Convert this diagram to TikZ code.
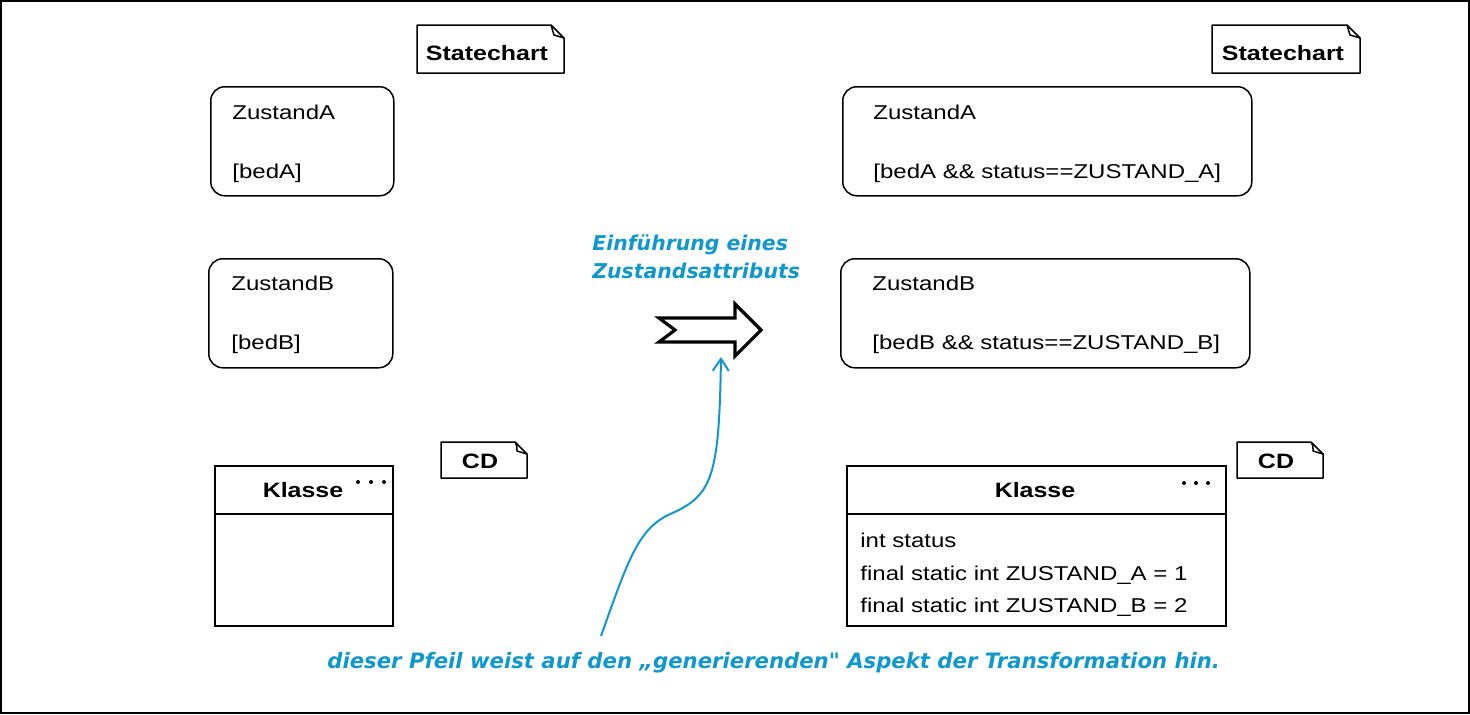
\documentclass[tikz,border=0pt]{standalone}
\usepackage{fontspec}
\setmainfont{Liberation Sans}[FakeStretch=1.2]
\newfontfamily\handfont{DejaVu Sans}
\usetikzlibrary{arrows.meta}
\definecolor{hand}{RGB}{16,152,206}
\tikzset{
  boxline/.style={draw=black, line width=0.75pt},
  statebox/.style={boxline, rounded corners=7pt, anchor=north west, inner sep=0pt},
  classbox/.style={boxline, anchor=north west, inner sep=0pt},
  txt/.style={anchor=base west, inner sep=0pt, font=\fontsize{10}{12}\selectfont},
  btxt/.style={anchor=base, inner sep=0pt, font=\fontsize{10.4}{12}\selectfont\bfseries},
  handtxt/.style={anchor=base west, inner sep=0pt, text=hand, font=\handfont\fontsize{10.2}{12}\selectfont\bfseries\itshape},
  bigarrow/.style={draw=black, line width=1.6pt, fill=white, miter limit=10},
  pointer/.style={draw=hand, line width=1pt, -{Straight Barb[length=6pt,width=8pt,line width=1pt]}},
  dot/.style={fill=black, draw=none},
}
\begin{document}
\begin{tikzpicture}[x=0.5pt,y=-0.5pt]
\useasboundingbox (0,0) rectangle (1470,714);
\draw[line width=1pt] (1,1) rectangle (1469,713);

% ---------- left side ----------
% Statechart tag
\draw[boxline, line join=round] (417,25) -- (551,25) -- (564,38) -- (564,73) -- (417,73) -- cycle;
\draw[boxline, line join=round] (551,25) .. controls (553,30) .. (554,35) -- (564,38);
\node[btxt] (tagL) at (487,60) {Statechart};

\node[statebox, minimum width=91.5pt, minimum height=54.5pt] (sAL) at (210,86) {};
\node[txt] (sALn) at (232,119) {ZustandA};
\node[txt] (sALc) at (232,178) {[bedA]};

\node[statebox, minimum width=92pt, minimum height=54.5pt] (sBL) at (208,258) {};
\node[txt] (sBLn) at (231,290) {ZustandB};
\node[txt] (sBLc) at (231,349) {[bedB]};

% CD tag
\draw[boxline, line join=round] (441,442) -- (515,442) -- (527,454) -- (527,478) -- (441,478) -- cycle;
\draw[boxline, line join=round] (515,442) .. controls (517,446) .. (517,451) -- (527,454);
\node[btxt] (cdL) at (480,468) {CD};

\node[classbox, minimum width=89pt, minimum height=80pt] (kL) at (214,465) {};
\draw[boxline] (214,514) -- (392,514);
\node[btxt] (kLn) at (303,497) {Klasse};
\fill[dot] (358,482) circle (2);
\fill[dot] (371,482) circle (2);
\fill[dot] (384,482) circle (2);

% ---------- right side ----------
\draw[boxline, line join=round] (1212,25) -- (1347,25) -- (1360,38) -- (1360,73) -- (1212,73) -- cycle;
\draw[boxline, line join=round] (1347,25) .. controls (1349,30) .. (1350,35) -- (1360,38);
\node[btxt] (tagR) at (1283,60) {Statechart};

\node[statebox, minimum width=204.5pt, minimum height=54.5pt] (sAR) at (842,86) {};
\node[txt] (sARn) at (873,119) {ZustandA};
\node[txt] (sARc) at (873,178) {[bedA \&\& status==ZUSTAND\_A]};

\node[statebox, minimum width=204.5pt, minimum height=54.5pt] (sBR) at (840,258) {};
\node[txt] (sBRn) at (872,290) {ZustandB};
\node[txt] (sBRc) at (872,349) {[bedB \&\& status==ZUSTAND\_B]};

\draw[boxline, line join=round] (1237,442) -- (1311,442) -- (1323,454) -- (1323,478) -- (1237,478) -- cycle;
\draw[boxline, line join=round] (1311,442) .. controls (1313,446) .. (1313,451) -- (1323,454);
\node[btxt] (cdR) at (1276,468) {CD};

\node[classbox, minimum width=189.5pt, minimum height=80pt] (kR) at (846,465) {};
\draw[boxline] (846,514) -- (1225,514);
\node[btxt] (kRn) at (1035,497) {Klasse};
\fill[dot] (1184,483) circle (2);
\fill[dot] (1196,483) circle (2);
\fill[dot] (1208,483) circle (2);
\node[txt] (a1) at (860,547) {int status};
\node[txt] (a2) at (860,580) {final static int ZUSTAND\_A = 1};
\node[txt] (a3) at (860,612) {final static int ZUSTAND\_B = 2};

% ---------- transformation arrow ----------
\draw[bigarrow] (659,318) -- (735,318) -- (735,304) -- (761,330) -- (735,356) -- (735,342) -- (659,342) -- (675,330) -- cycle;
\coordinate (arrowBottom) at (721,357);

\node[handtxt] (t1) at (592,250) {Einführung eines};
\node[handtxt] (t2) at (592,278) {Zustandsattributs};

\node[handtxt, font=\handfont\fontsize{10.6}{12}\selectfont\bfseries\itshape] (note) at (327,668) {dieser Pfeil weist auf den „generierenden" Aspekt der Transformation hin.};
\coordinate (curveStart) at (601,636);
\draw[pointer] (curveStart) .. controls (628,560) and (638,530) .. (668,515)
  .. controls (712,496) and (719,480) .. (arrowBottom);
\end{tikzpicture}
\end{document}
